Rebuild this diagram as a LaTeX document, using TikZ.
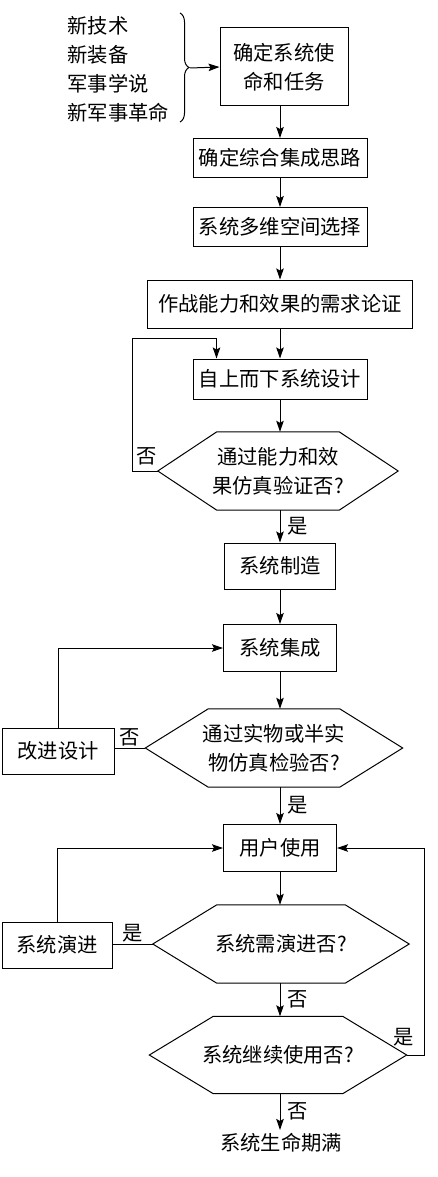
\documentclass[tikz,border=0pt]{standalone}
\usepackage{fontspec}
\setmainfont{Noto Sans CJK SC}
\usetikzlibrary{arrows.meta,positioning,decorations.pathreplacing}

% hexagonal frame round a named test node: #1 = inset of the points, #2 = node
\newcommand{\hexframe}[2][64pt]{%
  \draw[link] (#2.west) -- ([xshift=#1]#2.north west) -- ([xshift=-#1]#2.north east)
    -- (#2.east) -- ([xshift=-#1]#2.south east) -- ([xshift=#1]#2.south west) -- cycle;}

\begin{document}
\begin{tikzpicture}[
  x=1pt, y=1pt,
  font=\fontsize{20.3}{29}\selectfont,
  stepbox/.style={
    draw, line width=1pt, align=center, inner sep=2pt
  },
  testbox/.style={
    align=center, minimum width=256pt, minimum height=78pt, inner sep=0pt
  },
  lab/.style={inner sep=1pt},
  flow/.style={-{Stealth[length=11pt,width=7.5pt,inset=2pt]}, line width=1pt},
  link/.style={line width=1pt},
]
\useasboundingbox (0,0) rectangle (437,-1177);

% ---- top: drivers and mission ------------------------------------------
\node[align=left, anchor=west] (drivers) at (64,-69)
  {新技术\\新装备\\军事学说\\新军事革命};
\draw[link, decorate, decoration={brace, amplitude=9pt}]
  (180,-13) -- (180,-122);
\coordinate (bracetip) at (190,-68);

\node[stepbox, minimum width=128pt, minimum height=78pt] (mission) at (284,-67)
  {确定系统使\\命和任务};
\draw[flow] (bracetip) -- (mission.west);

% ---- design chain ------------------------------------------------------
\node[stepbox, minimum width=174pt, minimum height=39pt] (idea)   at (280,-158)
  {确定综合集成思路};
\node[stepbox, minimum width=174pt, minimum height=39pt] (space)  at (280,-227)
  {系统多维空间选择};
\node[stepbox, minimum width=265pt, minimum height=48pt] (demand) at (280,-304)
  {作战能力和效果的需求论证};
\node[stepbox, minimum width=174pt, minimum height=40pt] (design) at (280,-379)
  {自上而下系统设计};
\node[testbox, minimum width=240pt] (simtest) at (278,-471)
  {通过能力和效\\果仿真验证否?};
\hexframe[59pt]{simtest}

\draw[flow] (mission.south -| idea.north) -- (idea);
\draw[flow] (idea) -- (space);
\draw[flow] (space) -- (demand);
\draw[flow] (demand) -- (design);
\draw[flow] (design) -- (simtest.north -| design.south);

\coordinate (loopA) at (132,-338);
\draw[flow] (simtest.west) -| (loopA) -| ([xshift=24pt]design.north west);
\node[lab, anchor=south east] (noA) at ([xshift=0pt,yshift=5pt]simtest.west) {否};

% ---- build and integrate -----------------------------------------------
\node[stepbox, minimum width=111pt, minimum height=46pt] (build) at (280,-566)
  {系统制造};
\node[stepbox, minimum width=113pt, minimum height=47pt] (integ) at (280,-648)
  {系统集成};
\node[testbox, minimum width=257pt] (hwtest) at (274,-748)
  {通过实物或半实\\物仿真检验否?};
\hexframe[63pt]{hwtest}
\node[stepbox, minimum width=112pt, minimum height=46pt] (improve) at (58,-751)
  {改进设计};

\draw[flow] (simtest.south -| build.north) -- node[lab, right=6pt] (yesA) {是} (build);
\draw[flow] (build) -- (integ);
\draw[flow] (integ) -- (hwtest.north -| integ.south);
\draw[link] (hwtest.west) -- node[lab, above] (noB) {否} (hwtest.west -| improve.east);
\draw[flow] (improve.north) |- (integ.west);

% ---- use and evolve ----------------------------------------------------
\node[stepbox, minimum width=113pt, minimum height=47pt] (use) at (280,-848)
  {用户使用};
\node[testbox] (evolvetest) at (281,-944) {系统需演进否?};
\hexframe{evolvetest}
\node[stepbox, minimum width=110pt, minimum height=46pt] (evolve) at (57,-945)
  {系统演进};
\node[testbox, minimum width=257pt, minimum height=77pt] (keeptest) at (278,-1055)
  {系统继续使用否?};
\hexframe{keeptest}
\node (endlife) at (281,-1143) {系统生命期满};

\draw[flow] (hwtest.south -| use.north) -- node[lab, right=6pt] (yesB) {是} (use);
\draw[flow] (use) -- (evolvetest.north -| use.south);
\draw[link] (evolvetest.west) -- node[lab, above] (yesC) {是} (evolvetest.west -| evolve.east);
\draw[flow] (evolve.north) |- (use.west);
\draw[flow] (evolvetest.south -| use.south) -- node[lab, right=6pt] (noC) {否}
  (keeptest.north -| use.south);

\coordinate (loopB) at (424,-1055);
\draw[flow] (keeptest.east) -- (loopB) |- (use.east);
\node[lab, anchor=south] (yesD) at ([xshift=-3pt,yshift=8pt]keeptest.east) {是};
\draw[flow] (keeptest.south -| use.south) -- node[lab, right=6pt] (noD) {否}
  (endlife.north -| use.south);

\end{tikzpicture}
\end{document}
